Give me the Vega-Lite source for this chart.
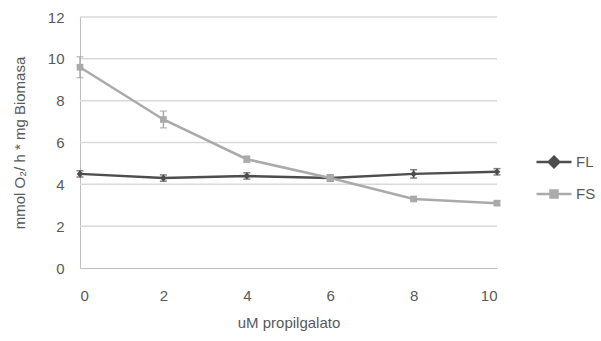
{
  "$schema": "https://vega.github.io/schema/vega-lite/v6.json",
  "width": 417,
  "height": 251,
  "autosize": "none",
  "padding": {"left": 80, "top": 17, "right": 104, "bottom": 73},
  "background": "white",
  "config": {
    "font": "Liberation Sans",
    "view": {"stroke": null, "fill": null},
    "axis": {"labelFont": "Liberation Sans", "titleFont": "Liberation Sans", "labelColor": "#595959", "titleColor": "#595959", "labelFontSize": 15, "titleFontSize": 15, "titleFontWeight": "normal", "domainColor": "#bfbfbf", "tickSize": 0, "grid": false}
  },
  "datasets": {
    "grid": [{"g": 2}, {"g": 4}, {"g": 6}, {"g": 8}, {"g": 10}, {"g": 12}]
  },
  "data": {"values": [
    {"x": 0, "series": "FL", "y": 4.5, "lo": 4.35, "hi": 4.65},
    {"x": 2, "series": "FL", "y": 4.3, "lo": 4.15, "hi": 4.45},
    {"x": 4, "series": "FL", "y": 4.4, "lo": 4.25, "hi": 4.55},
    {"x": 6, "series": "FL", "y": 4.3, "lo": 4.15, "hi": 4.45},
    {"x": 8, "series": "FL", "y": 4.5, "lo": 4.3, "hi": 4.7},
    {"x": 10, "series": "FL", "y": 4.6, "lo": 4.45, "hi": 4.75},
    {"x": 0, "series": "FS", "y": 9.6, "lo": 9.1, "hi": 10.1},
    {"x": 2, "series": "FS", "y": 7.1, "lo": 6.7, "hi": 7.5},
    {"x": 4, "series": "FS", "y": 5.2, "lo": 5.05, "hi": 5.35},
    {"x": 6, "series": "FS", "y": 4.3, "lo": 4.15, "hi": 4.45},
    {"x": 8, "series": "FS", "y": 3.3, "lo": 3.2, "hi": 3.4},
    {"x": 10, "series": "FS", "y": 3.1, "lo": 3.0, "hi": 3.2}
  ]},
  "encoding": {
    "color": {"field": "series", "type": "nominal", "scale": {"domain": ["FL", "FS"], "range": ["#4d4d4d", "#aaaaaa"]}, "legend": {
      "title": null, "orient": "none", "legendX": 455, "legendY": 126, "labelFontSize": 15, "labelColor": "#595959", "labelFont": "Liberation Sans", "rowPadding": 2, "symbolSize": 1225, "symbolStrokeWidth": 2.5, "labelOffset": 3,
      "encode": {"symbols": {"update": {
        "shape": {"signal": "datum.value == 'FL' ? 'M-1,0H1M0,-0.3L0.3,0L0,0.3L-0.3,0Z' : 'M-1,0H1M-0.2,-0.2H0.2V0.2H-0.2Z'"},
        "stroke": {"signal": "datum.value == 'FL' ? '#4d4d4d' : '#aaaaaa'"},
        "fill": {"signal": "datum.value == 'FL' ? '#4d4d4d' : '#aaaaaa'"},
        "opacity": {"value": 1}
      }}}
    }}
  },
  "layer": [
    {
      "data": {"name": "grid"},
      "mark": {"type": "rule", "strokeWidth": 1.5},
      "encoding": {
        "y": {"field": "g", "type": "quantitative", "title": "mmol O₂/ h * mg Biomasa"},
        "color": {"value": "#d9d9d9"}
      }
    },
    {
      "mark": {"type": "line", "strokeWidth": 2.5},
      "encoding": {
        "x": {"field": "x", "type": "quantitative", "scale": {"domain": [0, 10], "nice": false}, "axis": {"values": [0, 2, 4, 6, 8, 10], "title": "uM propilgalato", "labelPadding": 20, "titlePadding": 12}},
        "y": {"field": "y", "type": "quantitative", "scale": {"domain": [0, 12]}, "axis": {"values": [0, 2, 4, 6, 8, 10, 12], "title": "mmol O₂/ h * mg Biomasa", "labelPadding": 16, "titlePadding": 20}}
      }
    },
    {
      "mark": {"type": "rule", "strokeWidth": 1.5},
      "encoding": {"x": {"field": "x", "type": "quantitative"}, "y": {"field": "lo", "type": "quantitative", "title": "mmol O₂/ h * mg Biomasa"}, "y2": {"field": "hi"}}
    },
    {
      "mark": {"type": "tick", "thickness": 1.5, "size": 7, "orient": "horizontal"},
      "encoding": {"x": {"field": "x", "type": "quantitative"}, "y": {"field": "lo", "type": "quantitative", "title": "mmol O₂/ h * mg Biomasa"}}
    },
    {
      "mark": {"type": "tick", "thickness": 1.5, "size": 7, "orient": "horizontal"},
      "encoding": {"x": {"field": "x", "type": "quantitative"}, "y": {"field": "hi", "type": "quantitative", "title": "mmol O₂/ h * mg Biomasa"}}
    },
    {
      "mark": {"type": "point", "filled": true, "opacity": 1, "size": 45},
      "encoding": {
        "x": {"field": "x", "type": "quantitative"},
        "y": {"field": "y", "type": "quantitative", "title": "mmol O₂/ h * mg Biomasa"},
        "shape": {"condition": {"test": "datum.series == 'FL'", "value": "diamond"}, "value": "square"}
      }
    }
  ]
}
